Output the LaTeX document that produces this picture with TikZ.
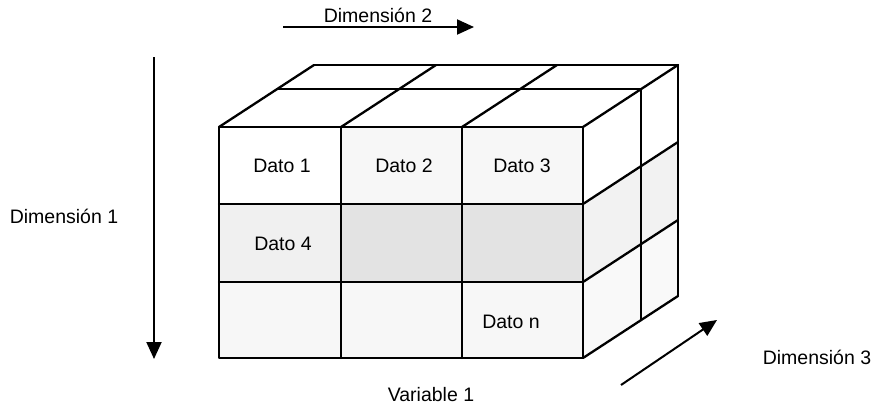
\documentclass[tikz,border=0pt]{standalone}
\usepackage{fontspec}
\setmainfont{Liberation Sans}
\usetikzlibrary{arrows.meta}
\begin{document}
\begin{tikzpicture}[x=1pt,y=-1pt,
  edge/.style={line width=2.3pt, line join=round, line cap=round},
  arr/.style={line width=2pt,-{Triangle[length=17pt,width=15pt]}},
  lbl/.style={font=\fontsize{19.5}{22}\selectfont, inner sep=0pt, anchor=center},
]
\useasboundingbox (0,0) rectangle (878,407);

% light shading of cells
\fill[gray!12] (219,204) rectangle (341,282);
\fill[gray!22] (341,204) rectangle (583,282);
\fill[gray!6] (341,127) rectangle (583,204);
\fill[gray!6] (219,282) rectangle (583,358);
\fill[gray!10] (583,204) -- (678,142) -- (678,220) -- (583,282) -- cycle;
\fill[gray!5] (583,282) -- (678,220) -- (678,296) -- (583,358) -- cycle;

% front face
\draw[edge] (219,127) rectangle (583,358);
\draw[edge] (341,127) -- (341,358);
\draw[edge] (462,127) -- (462,358);
\draw[edge] (219,204) -- (583,204);
\draw[edge] (219,282) -- (583,282);

% top face
\draw[edge] (277,89) -- (641,89);
\draw[edge] (314,65) -- (678,65);
\foreach \x in {219,341,462,583} \draw[edge] (\x,127) -- ++(95,-62);

% right face
\draw[edge] (641,89) -- (641,320);
\draw[edge] (678,65) -- (678,296);
\foreach \y in {204,282,358} \draw[edge] (583,\y) -- ++(95,-62);

% cell labels
\node[lbl] (d1) at (282,166) {Dato 1};
\node[lbl] (d2) at (404,166) {Dato 2};
\node[lbl] (d3) at (522,166) {Dato 3};
\node[lbl] (d4) at (283,244) {Dato 4};
\node[lbl] (dn) at (511,322) {Dato n};

% axes
\node[lbl] (dim2) at (378,15) {Dimensión 2};
\coordinate (a2s) at (283,27);
\coordinate (a2e) at (474,27);
\draw[arr] (a2s) -- (a2e);

\node[lbl] (dim1) at (64,216) {Dimensión 1};
\coordinate (a1s) at (154,57);
\coordinate (a1e) at (154,359);
\draw[arr] (a1s) -- (a1e);

\node[lbl] (dim3) at (817,357) {Dimensión 3};
\coordinate (a3s) at (621,385);
\coordinate (a3e) at (717,320);
\draw[arr] (a3s) -- (a3e);

\node[lbl] (var1) at (431,395) {Variable 1};
\end{tikzpicture}
\end{document}
